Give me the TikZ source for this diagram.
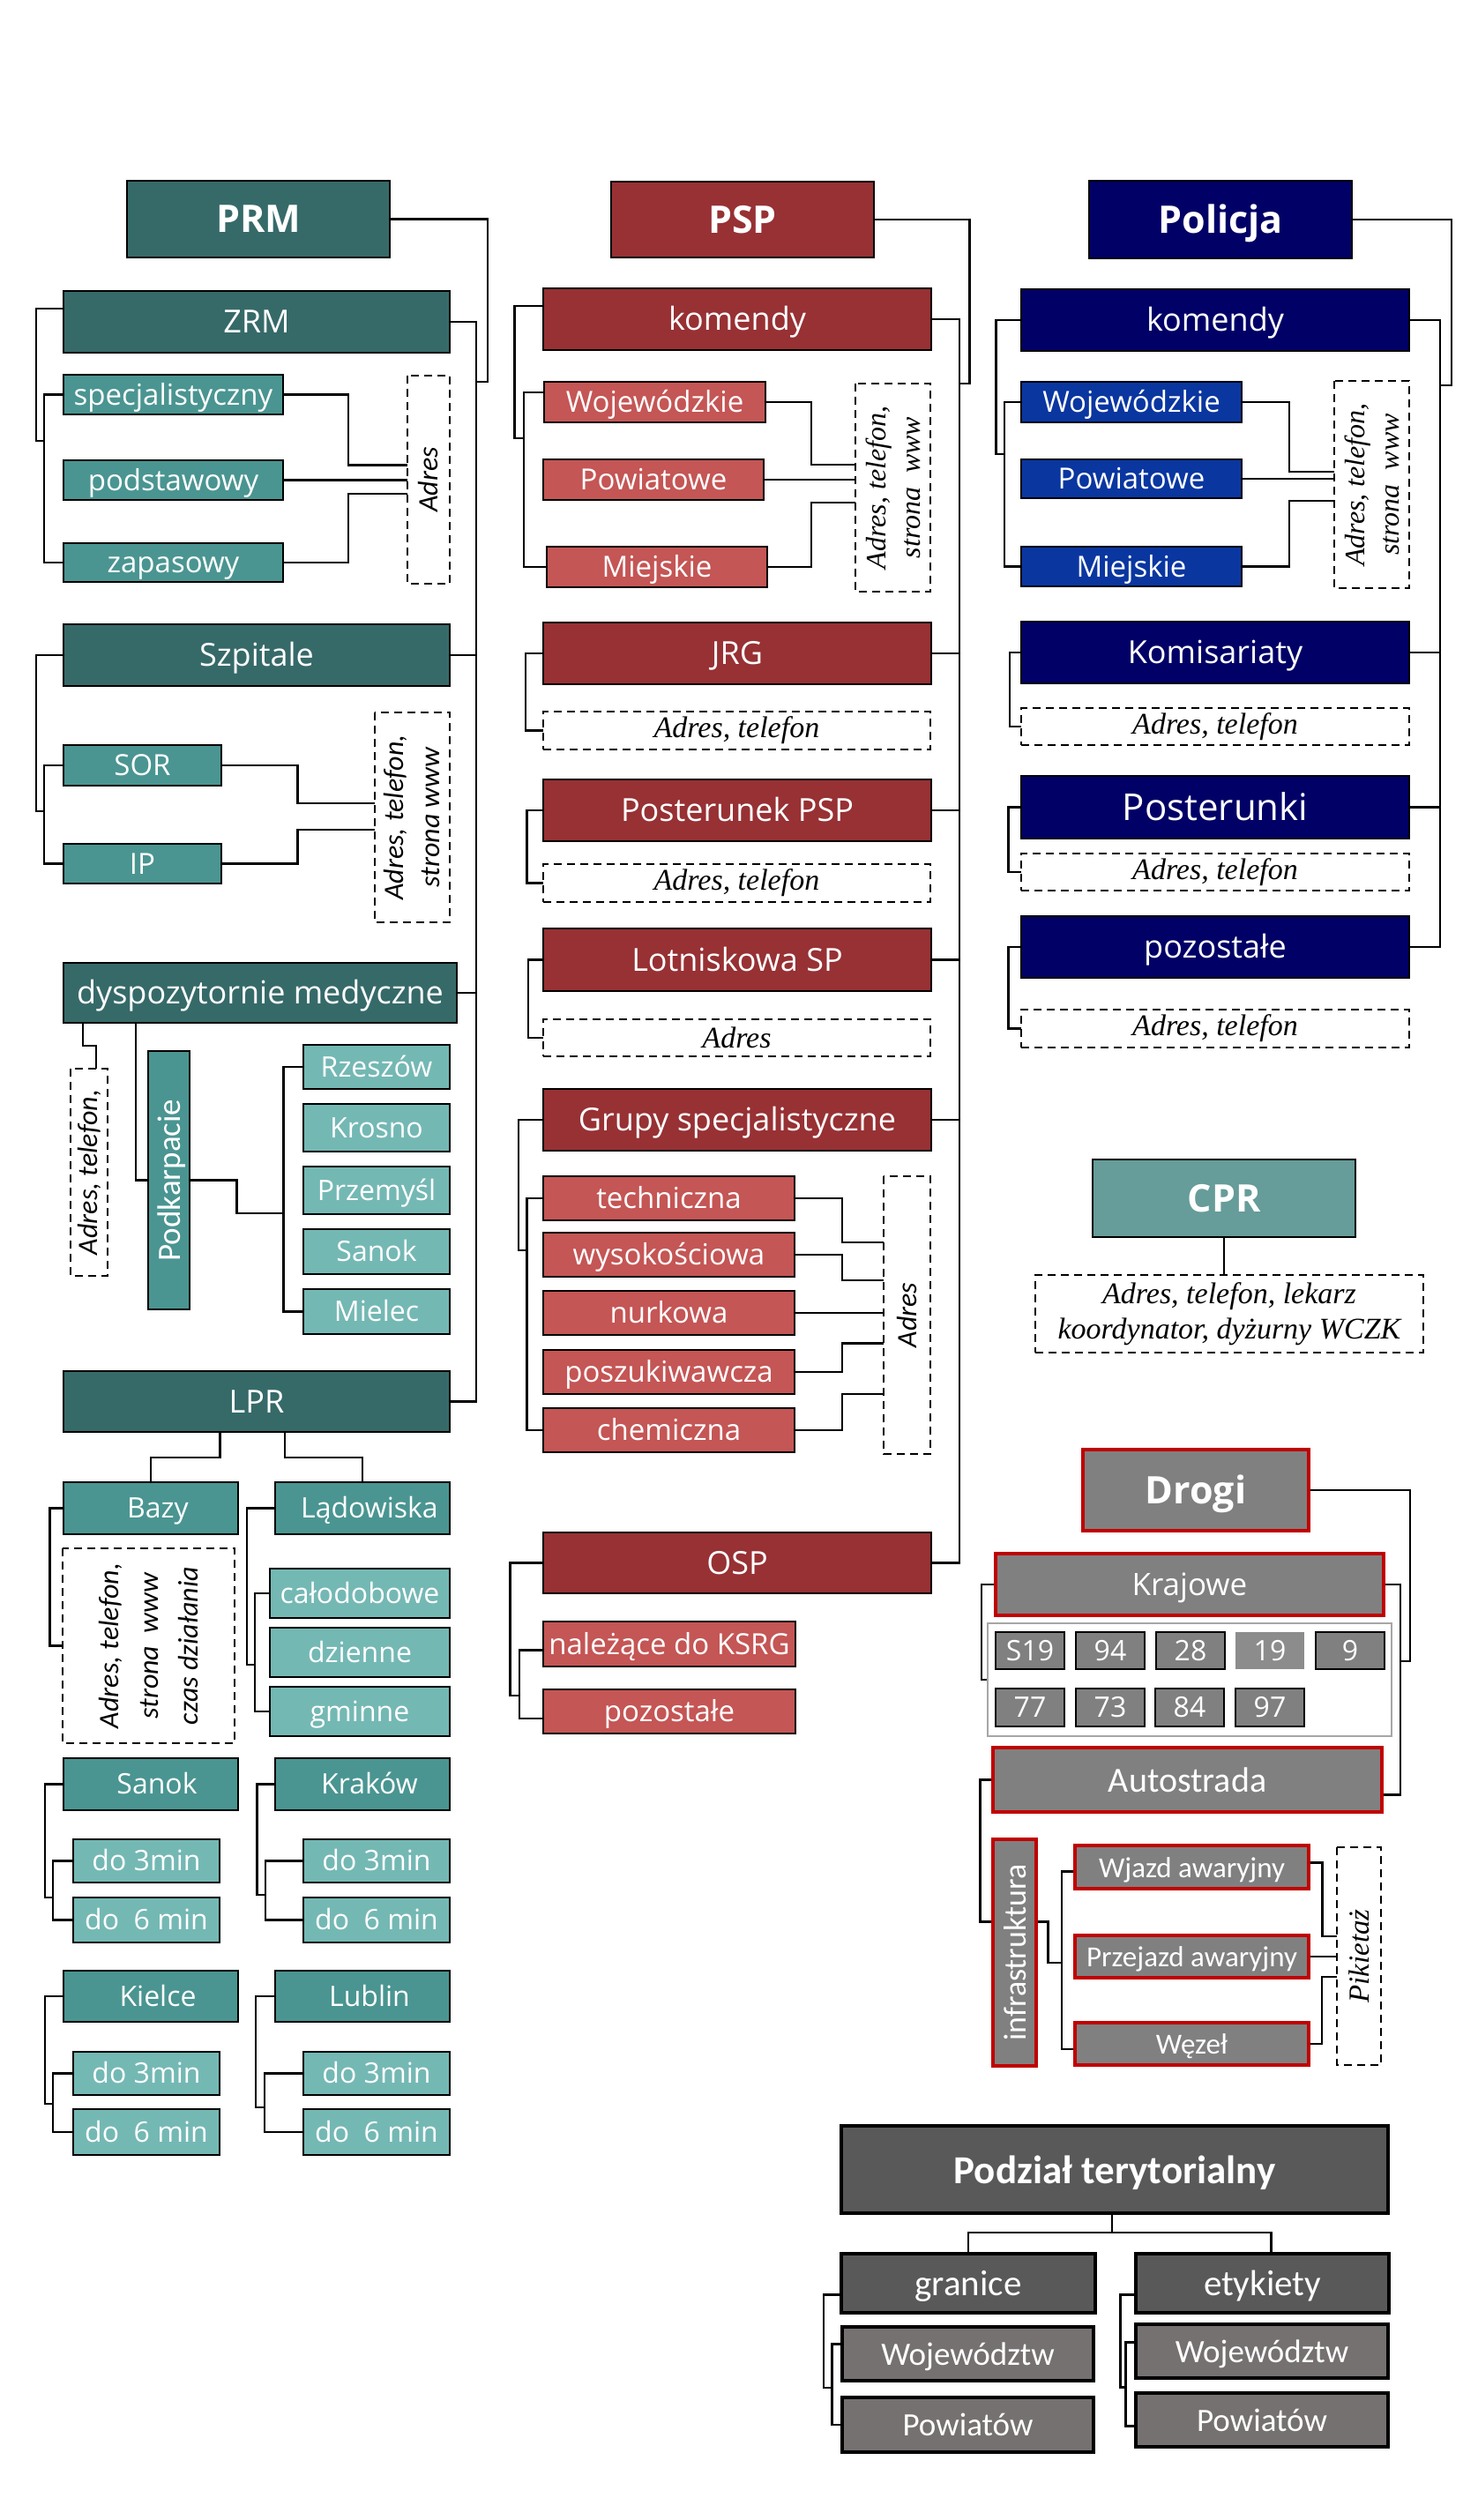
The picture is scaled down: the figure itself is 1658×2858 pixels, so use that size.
\documentclass[tikz,border=0pt]{standalone}
\usepackage{fontspec}
\setmainfont{Open Sans}
\newfontfamily\osans{Open Sans}
\newfontfamily\carl{Carlito}
\newfontfamily\tms{Liberation Serif}
\definecolor{prmD}{HTML}{366A69}
\definecolor{prmM}{HTML}{4A9591}
\definecolor{prmL}{HTML}{74B8B4}
\definecolor{cprC}{HTML}{669C99}
\definecolor{pspD}{HTML}{973134}
\definecolor{pspL}{HTML}{C45655}
\definecolor{polD}{HTML}{000066}
\definecolor{polL}{HTML}{0A36A0}
\definecolor{grC}{HTML}{808080}
\definecolor{grL}{HTML}{8C8C8C}
\definecolor{redC}{HTML}{C00000}
\definecolor{pdD}{HTML}{595959}
\definecolor{pdL}{HTML}{767171}
\definecolor{contC}{HTML}{A6A6A6}
\pgfdeclarelayer{bg}
\pgfsetlayers{bg,main}
\newcommand\bx[7]{\node[#6,minimum width={(#4)-(#2)},minimum height={(#5)-(#3)}] (#1) at ({((#2)+(#4))/2},{((#3)+(#5))/2}) {#7};}
\newcommand\vbx[7]{\node[#6,rotate=90,minimum width={(#5)-(#3)},minimum height={(#4)-(#2)}] (#1) at ({((#2)+(#4))/2},{((#3)+(#5))/2}) {#7};}
\tikzset{
 fs/.style n args={2}{font=#1\fontsize{#2}{#2}\selectfont, text height=0.9*#2pt, text depth=0.2*#2pt},
 bxs/.style={inner sep=0pt, outer sep=0pt, draw=black, line width=2.5pt, text=white},
 t1/.style={bxs, fs={\osans\bfseries}{43}},
 l2/.style={bxs, fs={\osans}{36}},
 l3/.style={bxs, fs={\osans}{33}},
 l4/.style={bxs, fs={\osans}{32}},
 dsh/.style={draw=black, dash pattern=on 9pt off 6pt, line width=2.2pt, fill=white, text=black, inner sep=0pt, outer sep=0pt, align=center},
 dshC/.style={dsh, font=\carl\itshape\fontsize{32}{41}\selectfont},
 dshT/.style={dsh, font=\tms\itshape\fontsize{34}{40}\selectfont},
 dshV/.style={dsh, font=\tms\itshape\fontsize{32}{39}\selectfont},
 rd/.style={bxs, fill=grC, draw=redC, line width=4pt},
 nb/.style={bxs, fill=grC, fs={\osans}{32}},
 pd/.style={bxs, line width=4pt, fs={\carl}{37}},
 conn/.style={draw=black, line width=2.5pt},
}
\begin{document}
\begin{tikzpicture}[x=1pt,y=-1pt]
\useasboundingbox (0,0) rectangle (1658,2858);
% ---------------- PRM ----------------
\bx{prm}{144}{205}{442}{292}{t1,fill=prmD}{PRM}
\bx{zrm}{72}{330}{510}{400}{l2,fill=prmD}{ZRM}
\bx{spec}{72}{425}{321}{470}{l3,fill=prmM}{specjalistyczny}
\bx{podst}{72}{522}{321}{567}{l3,fill=prmM}{podstawowy}
\bx{zap}{72}{616}{321}{660}{l3,fill=prmM}{zapasowy}
\vbx{adrZ}{462}{426}{510}{662}{dshC}{Adres}
\bx{szp}{72}{708}{510}{778}{l2,fill=prmD}{Szpitale}
\bx{sor}{72}{845}{251}{891}{l3,fill=prmM}{SOR}
\bx{ip}{72}{957}{251}{1002}{l3,fill=prmM}{IP}
\vbx{adrS}{425}{808}{510}{1046}{dshC}{Adres, telefon,\\strona www}
\bx{dysp}{72}{1092}{518}{1160}{l2,fill=prmD}{dyspozytornie medyczne}
\vbx{adrD}{80}{1212}{122}{1447}{dshC}{Adres, telefon,}
\vbx{podk}{168}{1192}{215}{1485}{bxs,fill=prmM,fs={\carl}{37}}{Podkarpacie}
\bx{rz}{344}{1185}{510}{1235}{l4,fill=prmL}{Rzeszów}
\bx{kro}{344}{1252}{510}{1306}{l4,fill=prmL}{Krosno}
\bx{prz}{344}{1323}{510}{1377}{l4,fill=prmL}{Przemyśl}
\bx{sanC}{344}{1394}{510}{1445}{l4,fill=prmL}{Sanok}
\bx{mie}{344}{1462}{510}{1513}{l4,fill=prmL}{Mielec}
\bx{lpr}{72}{1555}{510}{1624}{l2,fill=prmD}{LPR}
\bx{bazy}{72}{1681}{270}{1740}{l4,fill=prmM}{\hspace*{16pt}Bazy}
\bx{lad}{312}{1681}{510}{1740}{l4,fill=prmM}{\hspace*{16pt}Lądowiska}
\vbx{adrB}{71}{1756}{266}{1977}{dsh,font=\carl\itshape\fontsize{32}{45}\selectfont}{Adres, telefon,\\strona\ \ www\\czas działania}
\bx{cal}{306}{1779}{510}{1835}{l4,fill=prmL}{całodobowe}
\bx{dzi}{306}{1846}{510}{1902}{l4,fill=prmL}{dzienne}
\bx{gmi}{306}{1913}{510}{1969}{l4,fill=prmL}{gminne}
\bx{sanL}{72}{1994}{270}{2053}{l4,fill=prmM}{\hspace*{14pt}Sanok}
\bx{krk}{312}{1994}{510}{2053}{l4,fill=prmM}{\hspace*{16pt}Kraków}
\bx{s3}{83}{2086}{249}{2135}{l4,fill=prmL}{do 3min}
\bx{s6}{83}{2152}{249}{2203}{l4,fill=prmL}{do\ \ 6 min}
\bx{k3}{344}{2086}{510}{2135}{l4,fill=prmL}{do 3min}
\bx{k6}{344}{2152}{510}{2203}{l4,fill=prmL}{do\ \ 6 min}
\bx{kie}{72}{2235}{270}{2293}{l4,fill=prmM}{\hspace*{16pt}Kielce}
\bx{lub}{312}{2235}{510}{2293}{l4,fill=prmM}{\hspace*{16pt}Lublin}
\bx{ki3}{83}{2327}{249}{2376}{l4,fill=prmL}{do 3min}
\bx{ki6}{83}{2392}{249}{2444}{l4,fill=prmL}{do\ \ 6 min}
\bx{lu3}{344}{2327}{510}{2376}{l4,fill=prmL}{do 3min}
\bx{lu6}{344}{2392}{510}{2444}{l4,fill=prmL}{do\ \ 6 min}
% ---------------- PSP ----------------
\bx{psp}{693}{206}{991}{292}{t1,fill=pspD}{PSP}
\bx{kom}{616}{327}{1056}{397}{l2,fill=pspD}{komendy}
\bx{pw}{617}{433}{868}{479}{l3,fill=pspL}{Wojewódzkie}
\bx{pp}{616}{521}{866}{567}{l3,fill=pspL}{Powiatowe}
\bx{pm}{620}{620}{870}{666}{l3,fill=pspL}{Miejskie}
\vbx{adrK}{970}{435}{1055}{671}{dshV}{Adres, telefon,\\strona\ \ www}
\bx{jrg}{616}{706}{1056}{776}{l2,fill=pspD}{JRG}
\bx{jrgA}{616}{807}{1055}{850}{dshT}{Adres, telefon}
\bx{post}{616}{884}{1056}{954}{l2,fill=pspD}{Posterunek PSP}
\bx{postA}{616}{980}{1055}{1023}{dshT}{Adres, telefon}
\bx{lot}{616}{1053}{1056}{1124}{l2,fill=pspD}{Lotniskowa SP}
\bx{lotA}{616}{1156}{1055}{1198}{dshT}{Adres}
\bx{grp}{616}{1235}{1056}{1305}{l2,fill=pspD}{Grupy specjalistyczne}
\bx{g1}{616}{1334}{901}{1384}{l3,fill=pspL}{techniczna}
\bx{g2}{616}{1398}{901}{1448}{l3,fill=pspL}{wysokościowa}
\bx{g3}{616}{1464}{901}{1514}{l3,fill=pspL}{nurkowa}
\bx{g4}{616}{1531}{901}{1581}{l3,fill=pspL}{poszukiwawcza}
\bx{g5}{616}{1597}{901}{1647}{l3,fill=pspL}{chemiczna}
\vbx{adrG}{1002}{1334}{1055}{1649}{dshC}{Adres}
\bx{osp}{616}{1738}{1056}{1807}{l2,fill=pspD}{OSP}
\bx{ksrg}{616}{1839}{902}{1890}{l3,fill=pspL}{należące do KSRG}
\bx{poz}{616}{1916}{902}{1966}{l3,fill=pspL}{pozostałe}
% ---------------- Policja ----------------
\bx{pol}{1235}{205}{1533}{293}{t1,fill=polD}{Policja}
\bx{pk}{1158}{328}{1598}{398}{l2,fill=polD}{komendy}
\bx{qw}{1158}{433}{1408}{479}{l3,fill=polL}{Wojewódzkie}
\bx{qp}{1158}{521}{1408}{565}{l3,fill=polL}{Powiatowe}
\bx{qm}{1158}{620}{1408}{665}{l3,fill=polL}{Miejskie}
\vbx{adrP}{1513}{432}{1598}{667}{dshV}{Adres, telefon,\\strona\ \ www}
\bx{kms}{1158}{705}{1598}{775}{l2,fill=polD}{Komisariaty}
\bx{kmsA}{1158}{803}{1598}{845}{dshT}{Adres, telefon}
\bx{pst}{1158}{880}{1598}{951}{bxs,fill=polD,fs={\osans}{42}}{Posterunki}
\bx{pstA}{1158}{968}{1598}{1010}{dshT}{Adres, telefon}
\bx{pz}{1158}{1039}{1598}{1109}{l2,fill=polD}{pozostałe}
\bx{pzA}{1158}{1145}{1598}{1188}{dshT}{Adres, telefon}
% ---------------- CPR ----------------
\bx{cpr}{1239}{1315}{1537}{1403}{t1,fill=cprC}{CPR}
\bx{cprA}{1174}{1446}{1614}{1534}{dshT}{Adres, telefon, lekarz\\koordynator, dyżurny WCZK}
% ---------------- Drogi ----------------
\bx{dro}{1228}{1644}{1484}{1736}{rd,fs={\osans\bfseries}{43}}{Drogi}
\bx{kraj}{1129}{1762}{1569}{1832}{rd,fs={\osans}{35}}{Krajowe}
\bx{cont}{1120}{1841}{1578}{1969}{bxs,draw=contC,fill=white}{}
\bx{n1}{1129}{1851}{1207}{1893}{nb}{S19}
\bx{n2}{1220}{1851}{1298}{1893}{nb}{94}
\bx{n3}{1311}{1851}{1389}{1893}{nb}{28}
\bx{n4}{1401}{1851}{1479}{1893}{nb,draw=none,fill=grL}{19}
\bx{n5}{1492}{1851}{1570}{1893}{nb}{9}
\bx{n6}{1129}{1915}{1207}{1958}{nb}{77}
\bx{n7}{1220}{1915}{1298}{1958}{nb}{73}
\bx{n8}{1310}{1915}{1388}{1958}{nb}{84}
\bx{n9}{1401}{1915}{1479}{1958}{nb}{97}
\bx{auto}{1126}{1982}{1567}{2055}{rd,fs={\carl}{40}}{Autostrada}
\vbx{infra}{1126}{2086}{1175}{2343}{rd,fs={\carl}{36}}{infrastruktura}
\bx{wj}{1219}{2093}{1484}{2142}{rd,fs={\carl}{33}}{Wjazd awaryjny}
\bx{prj}{1219}{2195}{1484}{2243}{rd,fs={\carl}{33}}{Przejazd awaryjny}
\bx{wez}{1219}{2294}{1484}{2342}{rd,fs={\carl}{33}}{Węzeł}
\vbx{pik}{1516}{2095}{1566}{2342}{dsh,font=\tms\itshape\fontsize{33}{40}\selectfont}{Pikietaż}
% ---------------- Podzial ----------------
\bx{pod}{954}{2411}{1574}{2510}{pd,fill=pdD,fs={\carl\bfseries}{45}}{Podział terytorialny}
\bx{gra}{954}{2556}{1242}{2623}{pd,fill=pdD,fs={\carl}{41}}{granice}
\bx{ety}{1288}{2556}{1575}{2623}{pd,fill=pdD,fs={\carl}{41}}{etykiety}
\bx{gw}{955}{2639}{1240}{2700}{pd,fill=pdL}{Województw}
\bx{gp}{955}{2719}{1240}{2781}{pd,fill=pdL}{Powiatów}
\bx{ew}{1288}{2636}{1574}{2697}{pd,fill=pdL}{Województw}
\bx{ep}{1288}{2714}{1574}{2775}{pd,fill=pdL}{Powiatów}
% ---------------- coordinates ----------------
\coordinate (mP) at (540,0);
\coordinate (prmB) at (553,433);
\coordinate (zrmJ) at (50,500);
\coordinate (aZ1) at (462,527.5);
\coordinate (aZ3) at (462,560);
\coordinate (szJ) at (50,920);
\coordinate (aS1) at (425,911);
\coordinate (aS2) at (425,941);
\coordinate (cJ) at (321,1376);
\coordinate (ladJ) at (289,1888);
\coordinate (sJ) at (60,2152);
\coordinate (kJ) at (301,2149);
\coordinate (kiJ) at (60,2386);
\coordinate (luJ) at (300,2390);
\coordinate (mS) at (1088,0);
\coordinate (pspB) at (1099.5,435);
\coordinate (kJ2) at (594,497);
\coordinate (aK1) at (970,527);
\coordinate (aK3) at (970,570);
\coordinate (gJ) at (598,1418);
\coordinate (aG1) at (1002,1409);
\coordinate (aG2) at (1002,1452);
\coordinate (aG4) at (1002,1523.5);
\coordinate (aG5) at (1002,1581);
\coordinate (oJ) at (589,1923);
\coordinate (mQ) at (1633,0);
\coordinate (polB) at (1646,437);
\coordinate (qJ) at (1139,515);
\coordinate (aP1) at (1513,535);
\coordinate (aP3) at (1513,568);
\coordinate (mD) at (1588,0);
\coordinate (droB) at (1599,1884);
\coordinate (iJ) at (1204,2226);
\coordinate (pk1) at (1516,2196);
\coordinate (pk3) at (1516,2242);
\coordinate (pdJ) at (1261,2532);
\coordinate (grJ) at (943.6,2708);
\coordinate (etJ) at (1276.4,2707.6);
\begin{pgfonlayer}{bg}
\fill[white] (0,0) rectangle (1658,2858);
% PRM
\draw[conn] (zrm.east) -- (zrm.east -| mP) -- (lpr.east -| mP) -- (lpr.east);
\draw[conn] (szp.east) -- (szp.east -| mP);
\draw[conn] (dysp.east) -- (dysp.east -| mP);
\draw[conn] (prm.east) -| (prmB) -- (prmB -| mP);
\draw[conn] ([yshift=15pt]zrm.west) -- ++(-31,0) |- (zrmJ);
\draw[conn] (spec.west) -- ++(-22,0) |- (zap.west);
\draw[conn] (spec.east) -- ++(74,0) |- (aZ1);
\draw[conn] (podst.east) -- (podst.east -| adrZ.north);
\draw[conn] (zap.east) -- ++(74,0) |- (aZ3);
\draw[conn] (szp.west) -- ++(-31,0) |- (szJ);
\draw[conn] (sor.west) -- ++(-22,0) |- (ip.west);
\draw[conn] (sor.east) -- ++(86.5,0) |- (aS1);
\draw[conn] (ip.east) -- ++(86.5,0) |- (aS2);
\draw[conn] ([xshift=22pt]dysp.south west) -- ++(0,26) -| ([xshift=8pt]adrD.east);
\draw[conn] ([xshift=82pt]dysp.south west) |- (podk.north);
\draw[conn] (podk.south) -- ++(53.5,0) |- (cJ);
\draw[conn] (rz.west) -- ++(-22.6,0) |- (mie.west);
\draw[conn] ([xshift=177.5pt]lpr.south west) -- ++(0,29) -| (bazy.north);
\draw[conn] ([xshift=251pt]lpr.south west) -- ++(0,29) -| (lad.north);
\draw[conn] (bazy.west) -- ++(-15.6,0) |- (adrB.north);
\draw[conn] (lad.west) -- ++(-32,0) |- (ladJ);
\draw[conn] (cal.west) -- ++(-17,0) |- (gmi.west);
\draw[conn] (sanL.west) -- ++(-21,0) |- (sJ);
\draw[conn] (s3.west) -- ++(-23,0) |- (s6.west);
\draw[conn] (krk.west) -- ++(-20.5,0) |- (kJ);
\draw[conn] (k3.west) -- ++(-43,0) |- (k6.west);
\draw[conn] (kie.west) -- ++(-21,0) |- (kiJ);
\draw[conn] (ki3.west) -- ++(-23,0) |- (ki6.west);
\draw[conn] (lub.west) -- ++(-22,0) |- (luJ);
\draw[conn] (lu3.west) -- ++(-44,0) |- (lu6.west);
% PSP
\draw[conn] (kom.east) -- (kom.east -| mS) -- (osp.east -| mS) -- (osp.east);
\foreach \n in {jrg,post,lot,grp} \draw[conn] (\n.east) -- (\n.east -| mS);
\draw[conn] (psp.east) -| (pspB) -- (pspB -| mS);
\draw[conn] ([yshift=15pt]kom.west) -- ++(-32.4,0) |- (kJ2);
\draw[conn] ([yshift=11pt]pw.west) -- ++(-23,0) |- (pm.west);
\draw[conn] (pw.east) -- ++(52,0) |- (aK1);
\draw[conn] (pp.east) -- (pp.east -| adrK.north);
\draw[conn] (pm.east) -- ++(50,0) |- (aK3);
\draw[conn] (jrg.west) -- ++(-20,0) |- (jrgA.west);
\draw[conn] (post.west) -- ++(-18.5,0) |- (postA.west);
\draw[conn] (lot.west) -- ++(-17,0) |- (lotA.west);
\draw[conn] (grp.west) -- ++(-28,0) |- (gJ);
\draw[conn] (g1.west) -- ++(-18.5,0) |- (g5.west);
\draw[conn] (g1.east) -- ++(54,0) |- (aG1);
\draw[conn] (g2.east) -- ++(54,0) |- (aG2);
\draw[conn] (g3.east) -- (g3.east -| adrG.north);
\draw[conn] (g4.east) -- ++(54,0) |- (aG4);
\draw[conn] (g5.east) -- ++(54,0) |- (aG5);
\draw[conn] (osp.west) -- ++(-37.5,0) |- (oJ);
\draw[conn] ([yshift=-7pt]ksrg.west) -- ++(-27,0) |- ([yshift=-8pt]poz.west);
% Policja
\draw[conn] (pk.east) -- (pk.east -| mQ) -- (pz.east -| mQ) -- (pz.east);
\foreach \n in {kms,pst} \draw[conn] (\n.east) -- (\n.east -| mQ);
\draw[conn] (pol.east) -| (polB) -- (polB -| mQ);
\draw[conn] (pk.west) -- ++(-28.7,0) |- (qJ);
\draw[conn] (qw.west) -- ++(-19,0) |- (qm.west);
\draw[conn] (qw.east) -- ++(54,0) |- (aP1);
\draw[conn] (qp.east) -- (qp.east -| adrP.north);
\draw[conn] (qm.east) -- ++(54,0) |- (aP3);
\draw[conn] (kms.west) -- ++(-13,0) |- (kmsA.west);
\draw[conn] (pst.west) -- ++(-14.6,0) |- (pstA.west);
\draw[conn] (pz.west) -- ++(-14.6,0) |- (pzA.west);
% CPR
\draw[conn] (cpr.south) -- (cpr.south |- cprA.north);
% Drogi
\draw[conn] (kraj.east) -- (kraj.east -| mD) -- ([yshift=-17pt]auto.east -| mD) -- ([yshift=-17pt]auto.east);
\draw[conn] (dro.east) -| (droB) -- (droB -| mD);
\draw[conn] (kraj.west) -- ++(-16,0) |- (cont.west);
\draw[conn] (auto.west) -- ++(-14.5,0) |- ([yshift=35pt]infra.north);
\draw[conn] ([yshift=35pt]infra.south) -- ++(13.5,0) |- (iJ);
\draw[conn] ([yshift=-5pt]wj.west) -- ++(-15,0) |- ([yshift=-6pt]wez.west);
\draw[conn] ([yshift=5pt]wj.east) -- ++(15.5,0) |- (pk1);
\draw[conn] (prj.east) -- (prj.east -| pik.north);
\draw[conn] (wez.east) -- ++(15,0) |- (pk3);
% Podzial
\draw[conn] (pod.south -| pdJ) -- (pdJ);
\draw[conn] (gra.north) |- (pdJ) -| ([xshift=10pt]ety.north);
\draw[conn] ([yshift=-13pt]gra.west) -- ++(-20,0) |- (grJ);
\draw[conn] ([yshift=11pt]gw.west) -- ++(-11.4,0) |- (gp.west);
\draw[conn] ([yshift=-13pt]ety.west) -- ++(-17.4,0) |- (etJ);
\draw[conn] ([yshift=10pt]ew.west) -- ++(-11.6,0) |- ([yshift=-7pt]ep.west);
\end{pgfonlayer}
\end{tikzpicture}
\end{document}
